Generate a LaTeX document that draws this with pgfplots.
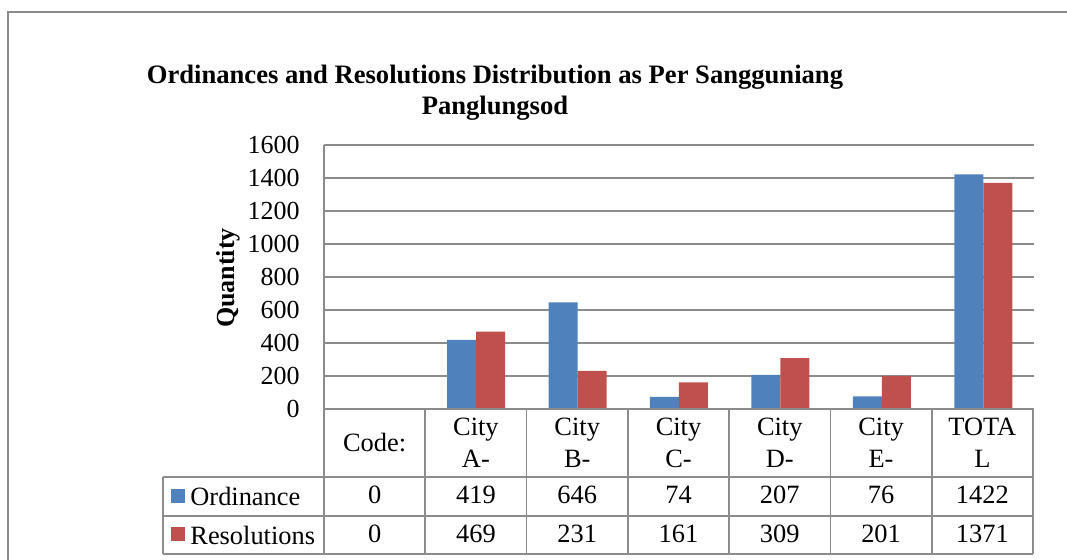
\documentclass[border=0pt]{standalone}
\usepackage{fontspec}
\setmainfont{Liberation Serif}
\usepackage{pgfplots}
\pgfplotsset{compat=1.18}
\definecolor{ordblue}{HTML}{4F81BD}
\definecolor{resred}{HTML}{C0504D}
\definecolor{gridgray}{HTML}{8C8C8C}
\begin{document}
\fontsize{13.2}{16}\selectfont
\begin{tikzpicture}
\begin{axis}[
  scale only axis, width=355pt, height=132pt,
  xmin=-0.5, xmax=6.5, ymin=0, ymax=1600,
  ytick={0,200,...,1600}, xtick=\empty,
  axis x line=none, axis y line=left,
  axis line style={draw=gridgray,line width=0.8pt,-},
  ymajorgrids, grid style={gridgray, line width=0.8pt},
  major tick length=0pt,
  yticklabel style={font=\fontsize{13}{16}\selectfont, anchor=east, inner sep=0pt, xshift=-12pt},
  /pgf/number format/assume math mode=true,
  /pgf/number format/1000 sep={},
  ybar=0pt, bar width=14.5pt,
  clip=false,
]
\addplot[fill=ordblue, draw=none] coordinates {(0,0) (1,419) (2,646) (3,74) (4,207) (5,76) (6,1422)};
\addplot[fill=resred, draw=none] coordinates {(0,0) (1,469) (2,231) (3,161) (4,309) (5,201) (6,1371)};
\end{axis}
\begin{scope}[x=0.5pt,y=-0.5pt,shift={(-162pt,204.5pt)}]
  \useasboundingbox (0,0) rectangle (1067,560);
  \draw[gridgray, line width=1pt] (8,600) -- (8,12) -- (1100,12);
  % data table
  \begin{scope}[gridgray, line width=0.8pt]
    \foreach \i in {0,...,7} \draw ({324+101.286*\i},409) -- ({324+101.286*\i},554);
    \draw (324,409) -- (1033,409);
    \draw (163,477) -- (1033,477);
    \draw (163,516) -- (1033,516);
    \draw (163,554) -- (1033,554);
    \draw (163,477) -- (163,554);
  \end{scope}
  \foreach \lab [count=\i from 0] in {Code:,City\\A-,City\\B-,City\\C-,City\\D-,City\\E-,TOTA\\L}
    \node[align=center, inner sep=0pt] at ({324+101.286*(\i+0.5)},443) {\lab};
  \foreach \v [count=\i from 0] in {0,419,646,74,207,76,1422}
    \node[inner sep=0pt] at ({324+101.286*(\i+0.5)},495) {\v};
  \foreach \v [count=\i from 0] in {0,469,231,161,309,201,1371}
    \node[inner sep=0pt] at ({324+101.286*(\i+0.5)},534) {\v};
  \fill[ordblue] (171,489) rectangle (185,503);
  \fill[resred] (171,527) rectangle (185,541);
  \node[anchor=west, inner sep=0pt] at (190,496) {Ordinance};
  \node[anchor=west, inner sep=0pt] at (190,535) {Resolutions};
  % title and axis label
  \node[align=center, font=\bfseries\fontsize{13.3}{15.5}\selectfont, inner sep=0pt] at (495,93)
    {Ordinances and Resolutions Distribution as Per Sangguniang\\Panglungsod};
  \node[rotate=90, font=\bfseries\fontsize{13}{16}\selectfont, inner sep=0pt] at (228,278) {Quantity};
\end{scope}
\end{tikzpicture}
\end{document}
